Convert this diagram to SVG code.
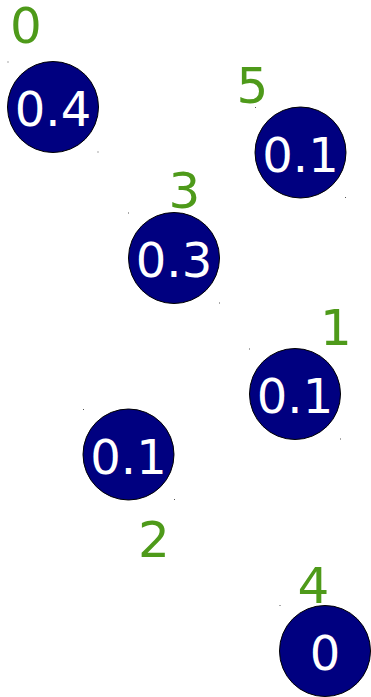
<svg xmlns="http://www.w3.org/2000/svg" width="371" height="697" viewBox="0 0 371 697">
<style>
.n{fill:#000080;stroke:#000;stroke-width:1}
.v{fill:#fff;font-family:"DejaVu Sans",sans-serif;font-size:48px;text-anchor:middle}
.l{fill:#4e9a1a;font-family:"DejaVu Sans",sans-serif;font-size:50px;text-anchor:middle}
.d{fill:#555}
</style>
<rect width="371" height="697" fill="#fff"/>
<g id="connectors"></g>
<g id="node0">
<rect class="d" x="7.5" y="61.5" width="1" height="1"/><rect class="d" x="97.5" y="151.5" width="1" height="1"/>
<circle class="n" cx="53" cy="107" r="45.5"/>
<text class="v" x="53" y="126">0.4</text>
<text class="l" x="26" y="43">0</text>
</g>
<g id="node5">
<rect class="d" x="255" y="107" width="1" height="1"/><rect class="d" x="345" y="197" width="1" height="1"/>
<circle class="n" cx="300.5" cy="152.5" r="45.5"/>
<text class="v" x="300.5" y="171.5">0.1</text>
<text class="l" x="252.5" y="103">5</text>
</g>
<g id="node3">
<rect class="d" x="128" y="212.5" width="1" height="1"/><rect class="d" x="219" y="302.5" width="1" height="1"/>
<circle class="n" cx="174" cy="258" r="45.5"/>
<text class="v" x="174" y="277">0.3</text>
<text class="l" x="184.5" y="208">3</text>
</g>
<g id="node1">
<rect class="d" x="249" y="348.5" width="1" height="1"/><rect class="d" x="340" y="438.5" width="1" height="1"/>
<circle class="n" cx="295" cy="394" r="45.5"/>
<text class="v" x="295" y="413">0.1</text>
<text class="l" x="336" y="345">1</text>
</g>
<g id="node2">
<rect class="d" x="83" y="409" width="1" height="1"/><rect class="d" x="174" y="499" width="1" height="1"/>
<circle class="n" cx="128.5" cy="454.5" r="45.5"/>
<text class="v" x="128.5" y="473.5">0.1</text>
<text class="l" x="154" y="557">2</text>
</g>
<g id="node4">
<rect class="d" x="279.5" y="605" width="1" height="1"/>
<circle class="n" cx="325" cy="651" r="45.5"/>
<text class="v" x="325" y="670">0</text>
<text class="l" x="313.5" y="603">4</text>
</g>
</svg>
